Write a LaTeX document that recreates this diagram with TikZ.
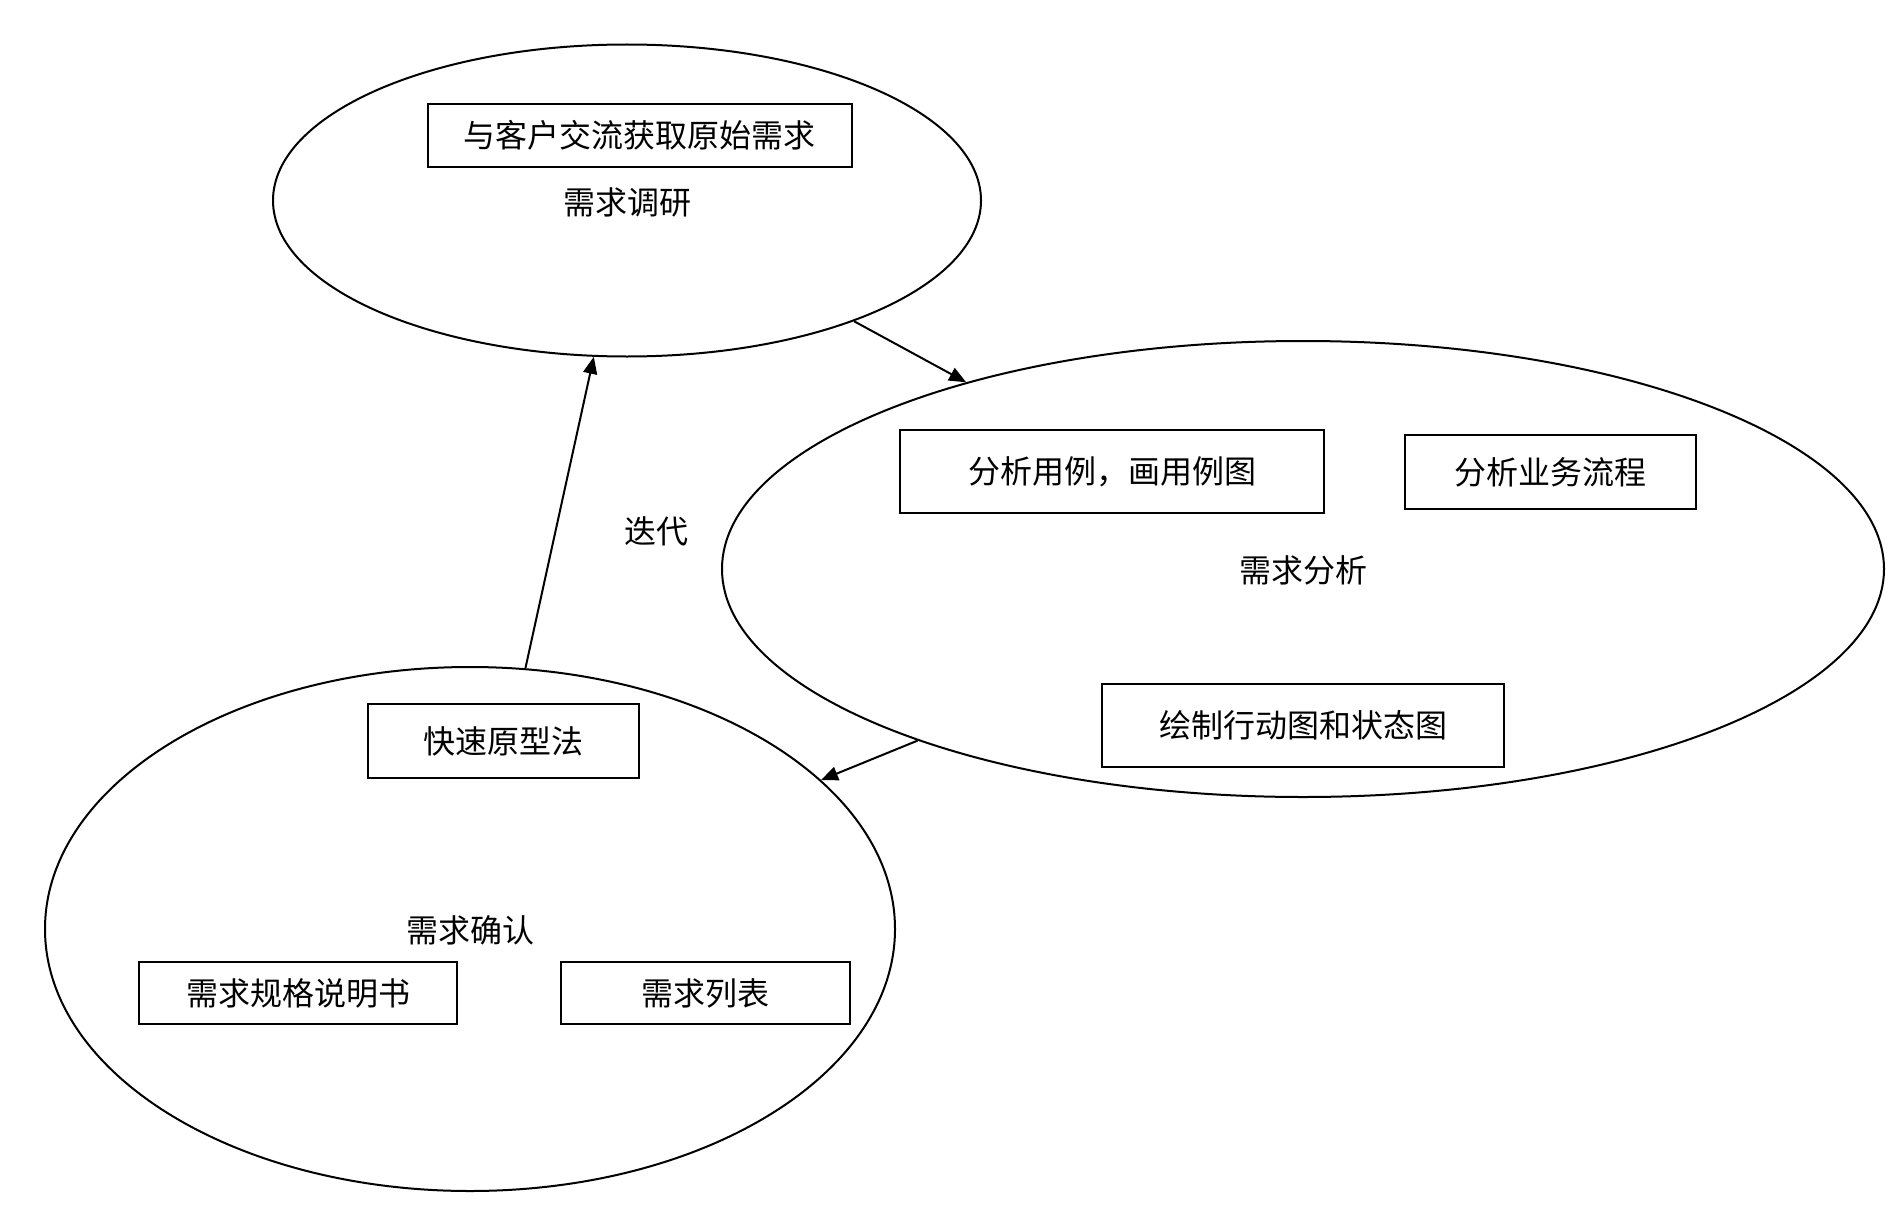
\documentclass[tikz,border=0pt]{standalone}
\usepackage{fontspec}
\setmainfont{Noto Sans CJK SC}
\usetikzlibrary{shapes.geometric,arrows.meta}
\begin{document}
\begin{tikzpicture}[x=0.5pt,y=-0.5pt,
  every node/.style={font=\fontsize{16}{19}\selectfont, inner sep=0pt},
  oval/.style={draw, line width=1pt, ellipse, minimum width=#1},
  box/.style={draw, line width=1pt, rectangle},
  conn/.style={line width=1pt, -{Triangle[length=8.5pt,width=7pt]}}]
\useasboundingbox (0,0) rectangle (1894,1204);
% ellipses
\node[oval=354pt, minimum height=156pt] (e1) at (627,200.5) {};
\node[oval=581pt, minimum height=228pt] (e2) at (1303,569) {};
\node[oval=425pt, minimum height=262pt] (e3) at (470,929) {};
% labels
\node (l1) at (627,202) {需求调研};
\node (l2) at (1303,570) {需求分析};
\node (l3) at (470,930) {需求确认};
\node (it) at (656,531) {迭代};
% boxes
\node[box, minimum width=212pt, minimum height=31.5pt] (b1) at (639.5,135.5) {与客户交流获取原始需求};
\node[box, minimum width=212pt, minimum height=41.5pt] (b2) at (1112,471.5) {分析用例，画用例图};
\node[box, minimum width=145.5pt, minimum height=37pt] (b3) at (1550.5,472) {分析业务流程};
\node[box, minimum width=201pt, minimum height=41.5pt] (b4) at (1303,725.5) {绘制行动图和状态图};
\node[box, minimum width=135.5pt, minimum height=37pt] (b5) at (503.5,741) {快速原型法};
\node[box, minimum width=159pt, minimum height=31pt] (b6) at (298,993) {需求规格说明书};
\node[box, minimum width=144.5pt, minimum height=31pt] (b7) at (705.5,993) {需求列表};
% connectors
\draw[conn] (e1.-28.5) -- (e2.151.3);
\draw[conn] (e2.-156.5) -- (e3.23.8);
\draw[conn] (e3.78.1) -- (e1.-102.5);
\end{tikzpicture}
\end{document}
